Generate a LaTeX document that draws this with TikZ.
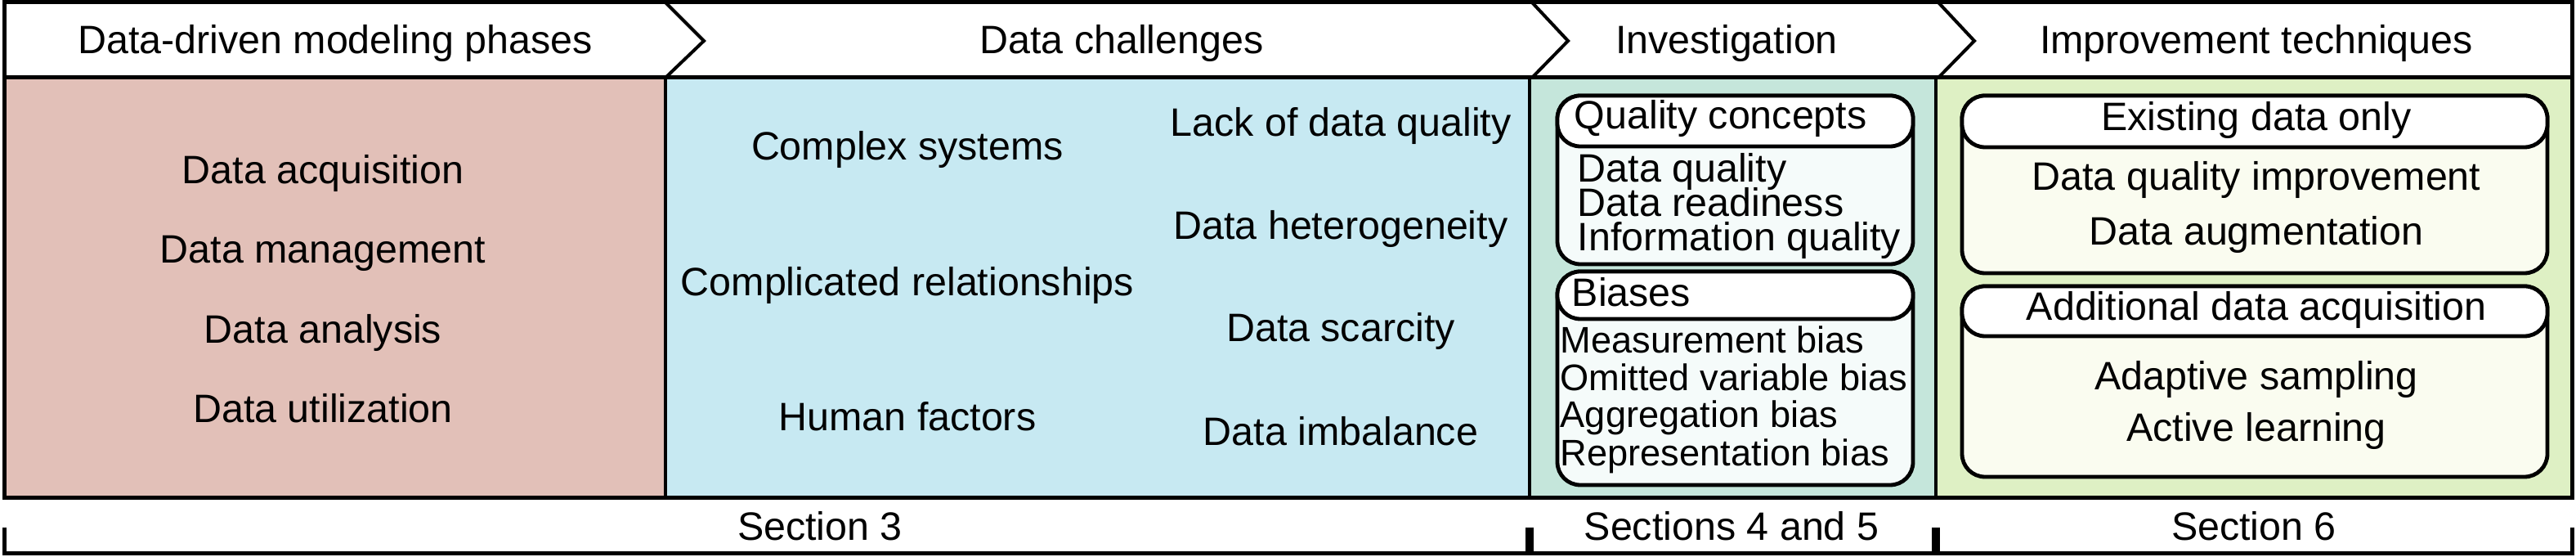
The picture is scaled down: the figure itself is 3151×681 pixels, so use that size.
\documentclass[tikz,border=0pt]{standalone}
\usepackage{fontspec}
\setmainfont{Liberation Sans}
\definecolor{pinkc}{HTML}{E2C0B8}
\definecolor{bluec}{HTML}{C7E9F2}
\definecolor{tealc}{HTML}{C5E6DB}
\definecolor{greenc}{HTML}{DEF0C4}
\definecolor{tealbody}{HTML}{F5FBFA}
\definecolor{greenbody}{HTML}{FAFCF0}
\begin{document}
\begin{tikzpicture}[x=0.25pt,y=-0.25pt,
  txt/.style={inner sep=0pt, anchor=base, font=\fontsize{12.1}{12.1}\selectfont},
  ltxt/.style={txt, anchor=base west},
  stxt/.style={ltxt, font=\fontsize{11.3}{11.3}\selectfont},
  frameline/.style={line width=1.25pt},
  sepline/.style={line width=0.8pt},
  chev/.style={line width=1pt, line join=miter},
  boxline/.style={line width=1.2pt, rounded corners=7pt},
]
\useasboundingbox (0,0) rectangle (3151,681);
% column fills
\fill[pinkc]  (5,95) rectangle (814,609);
\fill[bluec]  (814,95) rectangle (1871,609);
\fill[tealc]  (1871,95) rectangle (2368,609);
\fill[greenc] (2368,95) rectangle (3146,609);
% separators
\draw[sepline] (814,95) -- (814,609);
\draw[sepline] (1871,95) -- (1871,609);
\draw[sepline] (2368,95) -- (2368,609);
% frame
\draw[frameline] (5,3) rectangle (3146,609);
\draw[frameline] (5,95) -- (3146,95);
% chevrons
\draw[chev] (814,3) -- (861,50) -- (814,95);
\draw[chev] (1874,3) -- (1918,50) -- (1874,95);
\draw[chev] (2371,3) -- (2415,50) -- (2371,95);
% headers
\node[txt] (h1) at (410,66) {Data-driven modeling phases};
\node[txt] (h2) at (1372,66) {Data challenges};
\node[txt] (h3) at (2112,66) {Investigation};
\node[txt] (h4) at (2760,66) {Improvement techniques};
% phases
\node[txt] (p1) at (395,225) {Data acquisition};
\node[txt] (p2) at (395,322) {Data management};
\node[txt] (p3) at (395,420) {Data analysis};
\node[txt] (p4) at (395,517) {Data utilization};
% challenges
\node[txt] (c1) at (1110,196) {Complex systems};
\node[txt] (c2) at (1110,362) {Complicated relationships};
\node[txt] (c3) at (1110,527) {Human factors};
\node[txt] (c4) at (1640,167) {Lack of data quality};
\node[txt] (c5) at (1640,293) {Data heterogeneity};
\node[txt] (c6) at (1640,418) {Data scarcity};
\node[txt] (c7) at (1640,545) {Data imbalance};
% investigation boxes
\draw[boxline, fill=tealbody] (1905,117) rectangle (2340,323);
\draw[boxline, fill=white] (1905,117) rectangle (2340,179);
\draw[boxline, fill=tealbody] (1905,332) rectangle (2340,593);
\draw[boxline, fill=white] (1905,332) rectangle (2340,390);
\node[ltxt] (q0) at (1925,158) {Quality concepts};
\node[ltxt] (q1) at (1929,223) {Data quality};
\node[ltxt] (q2) at (1929,265) {Data readiness};
\node[ltxt] (q3) at (1929,307) {Information quality};
\node[ltxt] (b0) at (1922,375) {Biases};
\node[stxt] (b1) at (1908,432) {Measurement bias};
\node[stxt] (b2) at (1908,478) {Omitted variable bias};
\node[stxt] (b3) at (1908,523) {Aggregation bias};
\node[stxt] (b4) at (1908,570) {Representation bias};
% improvement boxes
\draw[boxline, fill=greenbody] (2400,117) rectangle (3116,334);
\draw[boxline, fill=white] (2400,117) rectangle (3116,180);
\draw[boxline, fill=greenbody] (2400,350) rectangle (3116,583);
\draw[boxline, fill=white] (2400,350) rectangle (3116,411);
\node[txt] (e0) at (2760,160) {Existing data only};
\node[txt] (e1) at (2760,233) {Data quality improvement};
\node[txt] (e2) at (2760,300) {Data augmentation};
\node[txt] (a0) at (2760,392) {Additional data acquisition};
\node[txt] (a1) at (2760,477) {Adaptive sampling};
\node[txt] (a2) at (2760,540) {Active learning};
% brackets
\draw[frameline] (5,645) -- (5,677) -- (3146,677) -- (3146,645);
\draw[line width=2.5pt] (1871,645) -- (1871,677);
\draw[line width=2.5pt] (2368,645) -- (2368,677);
\node[txt] (s1) at (1003,661) {Section 3};
\node[txt] (s2) at (2118,661) {Sections 4 and 5};
\node[txt] (s3) at (2757,661) {Section 6};
\end{tikzpicture}
\end{document}
